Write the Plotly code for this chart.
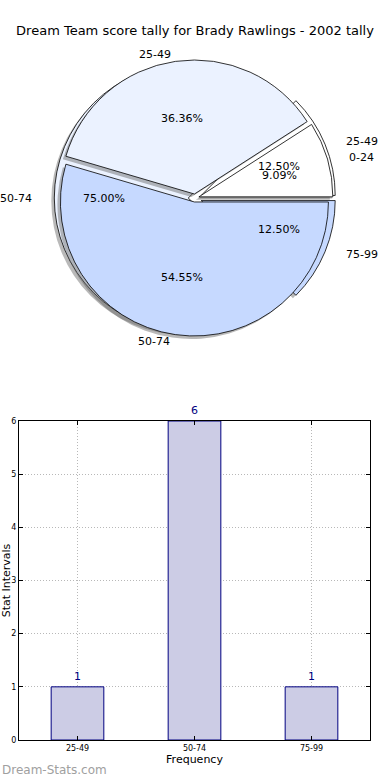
import numpy as np
import plotly.graph_objects as go

# ---------------- data ----------------
title_text = "Dream Team score tally for Brady Rawlings - 2002 tally"

top_labels = ["0-24", "25-49", "50-74"]
top_pcts = [9.09, 36.36, 54.55]
top_colors = ["#ffffff", "#ebf2ff", "#c6d9ff"]

bot_labels = ["25-49", "50-74", "75-99"]
bot_pcts = [12.50, 75.00, 12.50]
bot_colors = ["#ffffff", "#ebf2ff", "#c6d9ff"]

bar_cats = ["25-49", "50-74", "75-99"]
bar_vals = [1, 6, 1]
y_ticks = [0, 1, 2, 3, 4, 5, 6]

# ---------------- layout geometry ----------------
W, H = 390, 780
FONT = "DejaVu Sans"
R = 134          # pie radius in px
RX_TXT, RY_TXT = 140, 128   # text placement radii (original pie was slightly elliptical)
CX, CY = 195, 198
PULL_TOP = 0.03
PULL_BOT = 0.05


def pie_domain(pull, dx=0.0, dy=0.0):
    half = R * (1 + pull)
    x0 = (CX + dx - half) / W
    x1 = (CX + dx + half) / W
    y0 = 1 - (CY + dy + half) / H
    y1 = 1 - (CY + dy - half) / H
    return dict(x=[x0, x1], y=[y0, y1])


def pie_trace(labels, vals, colors, pull, dom, line=True):
    # plotly places the first slice clockwise of `rotation`; start first slice at 3 o'clock going CCW
    first_frac = vals[0] / float(sum(vals))
    rot = 90 - 360 * first_frac
    return go.Pie(
        labels=labels, values=vals, sort=False, direction="counterclockwise",
        rotation=rot, pull=[pull] * len(vals), domain=dom,
        marker=dict(colors=colors,
                    line=dict(color="black" if line else "rgba(0,0,0,0)", width=0.8)),
        textinfo="none", hoverinfo="skip", showlegend=False,
    )


fig = go.Figure()
shadow = "rgba(100,100,100,0.45)"
fig.add_trace(pie_trace(bot_labels, bot_pcts, [shadow] * 3, PULL_BOT,
                        pie_domain(PULL_BOT, -3, 3), line=False))
fig.add_trace(pie_trace(bot_labels, bot_pcts, bot_colors, PULL_BOT, pie_domain(PULL_BOT)))
fig.add_trace(pie_trace(top_labels, top_pcts, [shadow] * 3, PULL_TOP,
                        pie_domain(PULL_TOP, -3, 3), line=False))
fig.add_trace(pie_trace(top_labels, top_pcts, top_colors, PULL_TOP, pie_domain(PULL_TOP)))

annotations = []


def pie_texts(labels, vals, pull):
    total = float(sum(vals))
    start = 0.0
    for lab, v in zip(labels, vals):
        frac = v / total
        mid = 2 * np.pi * (start + frac / 2)
        start += frac
        c, s = np.cos(mid), np.sin(mid)
        px = CX + RX_TXT * (pull + 0.6) * c
        py = CY - RY_TXT * (pull + 0.6) * s
        annotations.append(dict(x=px / W, y=1 - py / H, xref="paper", yref="paper",
                                text=f"{100 * frac:.2f}%", showarrow=False,
                                xanchor="center", yanchor="middle",
                                font=dict(family=FONT, size=11, color="black")))
        lx = CX + RX_TXT * (pull + 1.1) * c
        ly = CY - RY_TXT * (pull + 1.1) * s
        annotations.append(dict(x=lx / W, y=1 - ly / H, xref="paper", yref="paper",
                                text=lab, showarrow=False,
                                xanchor="left" if c > 0 else "right", yanchor="middle",
                                font=dict(family=FONT, size=11, color="black")))


pie_texts(bot_labels, bot_pcts, PULL_BOT)
pie_texts(top_labels, top_pcts, PULL_TOP)

# ---------------- bar chart ----------------
fig.add_trace(go.Bar(
    x=bar_cats, y=bar_vals, width=0.45,
    marker=dict(color="rgb(204,204,229)", line=dict(color="#000080", width=1)),
    hoverinfo="skip", showlegend=False, xaxis="x", yaxis="y",
))
for c, v in zip(bar_cats, bar_vals):
    annotations.append(dict(x=c, y=v, xref="x", yref="y", text=str(v), showarrow=False,
                            xanchor="center", yanchor="bottom", yshift=2,
                            font=dict(family=FONT, size=11, color="#000080")))

annotations.append(dict(x=0, y=1 - 770 / H, xref="paper", yref="paper",
                        text="Dream-Stats.com", showarrow=False,
                        xanchor="left", yanchor="middle",
                        font=dict(family=FONT, size=12, color="#a0a0a0")))

axis_common = dict(showline=True, linecolor="black", linewidth=1, mirror="ticks",
                   ticks="inside", ticklen=4, tickcolor="black",
                   tickfont=dict(family=FONT, size=8, color="black"),
                   showgrid=True, gridcolor="#b8b8b8", griddash="1px,2px", gridwidth=1,
                   zeroline=False, automargin=False)

fig.update_layout(
    width=W, height=H, margin=dict(l=0, r=0, t=0, b=0, pad=0, autoexpand=False),
    paper_bgcolor="white", plot_bgcolor="white",
    title=dict(text=title_text, x=0.5, xanchor="center", y=1 - 30 / H, yanchor="middle",
               font=dict(family=FONT, size=13, color="black")),
    xaxis=dict(domain=[19 / W, 370 / W], anchor="y", type="category",
               range=[-0.5, 2.5],
               title=dict(text="Frequency", font=dict(family=FONT, size=11, color="black"),
                          standoff=2),
               **axis_common),
    yaxis=dict(domain=[1 - 740 / H, 1 - 421 / H], anchor="x", range=[0, 6],
               tickvals=y_ticks,
               title=dict(text="Stat Intervals", font=dict(family=FONT, size=11, color="black"),
                          standoff=0),
               **axis_common),
    annotations=annotations,
)

fig.write_html("out.html", config={"displayModeBar": False},
               post_script="document.body.style.margin='0';")
